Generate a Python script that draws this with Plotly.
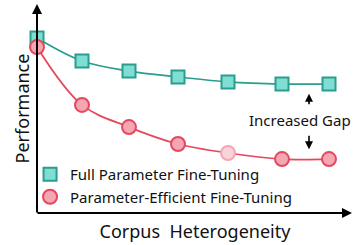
import plotly.graph_objects as go

# Data (arbitrary units)
heterogeneity = [0, 45, 92, 141, 191, 245, 292]
full_ft = [83.7, 72.7, 67.9, 65.1, 62.7, 61.7, 61.7]
peft = [79.4, 51.7, 41.1, 33.0, 28.7, 25.8, 25.8]
peft_fill = ["#f4a6b2", "#f4a6b2", "#f4a6b2", "#f4a6b2", "#f9d3d9", "#f4a6b2", "#f4a6b2"]
peft_edge = ["#e5485c", "#e5485c", "#e5485c", "#e5485c", "#f4a6b2", "#e5485c", "#e5485c"]

FONT = "Noto Sans"
TEAL, TEAL_FILL = "#2a9d8f", "#7fded4"
RED, RED_FILL = "#e5485c", "#f4a6b2"

fig = go.Figure()
fig.add_trace(go.Scatter(
    x=heterogeneity, y=full_ft, mode="lines+markers", showlegend=False,
    line=dict(color=TEAL, width=1.7, shape="spline", smoothing=1.0),
    marker=dict(symbol="square", size=13, color=TEAL_FILL, line=dict(color=TEAL, width=2)),
    cliponaxis=False,
))
fig.add_trace(go.Scatter(
    x=heterogeneity, y=peft, mode="lines+markers", showlegend=False,
    line=dict(color=RED, width=1.7, shape="spline", smoothing=1.0),
    marker=dict(symbol="circle", size=14, color=peft_fill, line=dict(color=peft_edge, width=2)),
    cliponaxis=False,
))
# legend entries (marker only)
fig.add_trace(go.Scatter(
    x=[None], y=[None], mode="markers", name="Full Parameter Fine-Tuning",
    marker=dict(symbol="square", size=13, color=TEAL_FILL, line=dict(color=TEAL, width=2)),
))
fig.add_trace(go.Scatter(
    x=[None], y=[None], mode="markers", name="Parameter-Efficient Fine-Tuning",
    marker=dict(symbol="circle", size=14, color=RED_FILL, line=dict(color=RED, width=2)),
))

annotations = [
    # y axis with arrow
    dict(xref="paper", yref="paper", x=0, y=1.0, ax=0, ay=210, axref="pixel", ayref="pixel",
         text="", showarrow=True, arrowhead=2, arrowsize=1, arrowwidth=2, arrowcolor="#000000"),
    # x axis with arrow
    dict(xref="paper", yref="paper", x=1.0, y=0, ax=-317, ay=0,
         text="", showarrow=True, arrowhead=2, arrowsize=1, arrowwidth=2, arrowcolor="#000000"),
    # gap label
    dict(xref="x", yref="y", x=263, y=44.5, text="Increased Gap", showarrow=False,
         font=dict(family=FONT, size=15, color="#111111")),
    dict(xref="x", yref="y", x=272, y=57, ax=0, ay=12, text="", showarrow=True,
         arrowhead=2, arrowsize=1, arrowwidth=1.6, arrowcolor="#000000"),
    dict(xref="x", yref="y", x=272, y=30.5, ax=0, ay=-15, text="", showarrow=True,
         arrowhead=2, arrowsize=1, arrowwidth=1.6, arrowcolor="#000000"),
]

fig.update_layout(
    width=353, height=245,
    margin=dict(l=37, r=0, t=4, b=32, autoexpand=False),
    paper_bgcolor="white", plot_bgcolor="white",
    showlegend=True,
    legend=dict(x=-0.022, y=0.0, xanchor="left", yanchor="bottom",
                bgcolor="rgba(0,0,0,0)", font=dict(family=FONT, size=15, color="#111111"),
                itemwidth=30, tracegroupgap=0),
    xaxis=dict(range=[0, 316], showgrid=False, zeroline=False, showticklabels=False,
               ticks="", showline=False, automargin=False,
               title=dict(text="Corpus  Heterogeneity", font=dict(family=FONT, size=18, color="#111111"),
                          standoff=12)),
    yaxis=dict(range=[0, 100], showgrid=False, zeroline=False, showticklabels=False,
               ticks="", showline=False, automargin=False,
               title=dict(text="Performance", font=dict(family=FONT, size=18, color="#111111"),
                          standoff=1)),
    annotations=annotations,
)

fig.write_html("out.html", config={"displayModeBar": False},
               post_script="document.body.style.margin='0';")
